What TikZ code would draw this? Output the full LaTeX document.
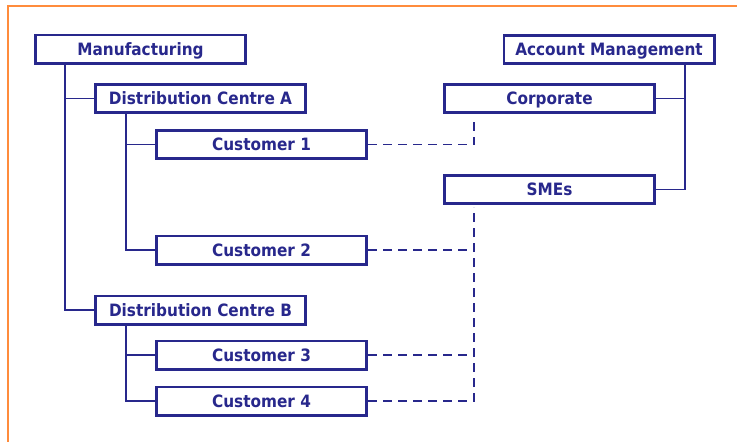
\documentclass[tikz,border=0pt]{standalone}
\usepackage{fontspec}
\setmainfont{DejaVu Sans Condensed}
\definecolor{navy}{RGB}{40,40,140}
\definecolor{frameorange}{RGB}{255,140,60}
\tikzset{
  unit/.style={draw=navy, line width=2.6pt, fill=white, text=navy,
    font=\fontsize{17}{19}\selectfont\bfseries,
    minimum width=210.4pt, minimum height=28.4pt, inner sep=0pt,
    text height=12.4pt, text depth=0pt},
  tree/.style={draw=navy, line width=1.5pt},
  link/.style={draw=navy, line width=1.5pt, dash pattern=on 9pt off 6pt}
}
\begin{document}
\begin{tikzpicture}[x=1pt,y=-1pt]
\useasboundingbox (0,0) rectangle (737,442);
% page frame, open at the right and bottom
\draw[frameorange, line width=2pt] (8,442) -- (8,6) -- (737,6);

% supply side
\node[unit] (man)  at (140.5,49)  {Manufacturing};
\node[unit] (dcA)  at (200.5,98.5) {Distribution Centre A};
\node[unit] (c1)   at (261.5,144.5) {Customer 1};
\node[unit] (c2)   at (261.5,250) {Customer 2};
\node[unit] (dcB)  at (200.5,310) {Distribution Centre B};
\node[unit] (c3)   at (261.5,355) {Customer 3};
\node[unit] (c4)   at (261.5,401) {Customer 4};

% account side
\node[unit] (am)   at (609,49.5)  {Account Management};
\node[unit] (corp) at (549.5,98.5) {Corporate};
\node[unit] (sme)  at (549.5,189.5) {SMEs};

% tree stems
\coordinate (mstem) at (65,64);
\coordinate (astem) at (126,113);
\coordinate (bstem) at (126,325);
\coordinate (amstem) at (685,64);
\draw[tree] (mstem) |- (dcA.west);
\draw[tree] (mstem) |- (dcB.west);
\draw[tree] (astem) |- (c1.west);
\draw[tree] (astem) |- (c2.west);
\draw[tree] (bstem) |- (c3.west);
\draw[tree] (bstem) |- (c4.west);
\draw[tree] (amstem) |- (corp.east);
\draw[tree] (amstem) |- (sme.east);

% customer to account links
\coordinate (corpdrop) at (474,119);
\coordinate (smedrop) at (474,207);
\draw[link] (c1.east) -| (corpdrop);
\draw[link] (c4.east) -| (smedrop);
\draw[link] (c2.east) -- (c2.east -| smedrop);
\draw[link] (c3.east) -- (c3.east -| smedrop);
\end{tikzpicture}
\end{document}
